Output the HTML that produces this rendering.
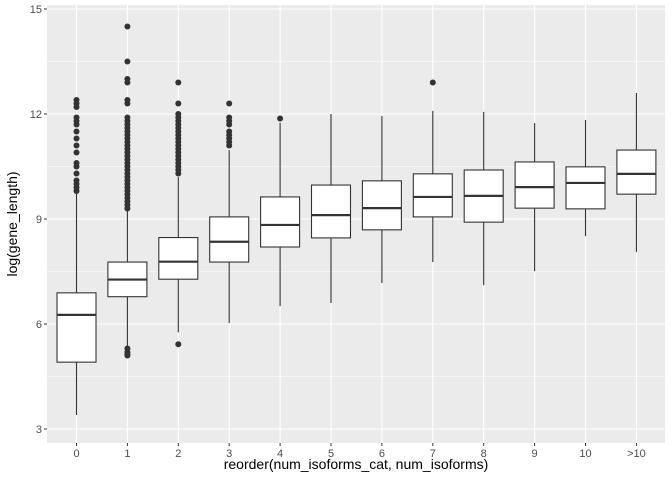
<!DOCTYPE html>
<html><head><meta charset="utf-8"><style>
body{margin:0;background:#fff;}
svg text{font-family:"Liberation Sans",sans-serif;}
</style></head><body>
<svg id="chart" width="672" height="480" xmlns="http://www.w3.org/2000/svg"></svg>
<script>
const categories=["0","1","2","3","4","5","6","7","8","9","10",">10"];
const q1=[4.91,6.78,7.28,7.77,8.2,8.46,8.69,9.06,8.91,9.31,9.29,9.71];
const med=[6.26,7.27,7.78,8.35,8.83,9.11,9.31,9.63,9.66,9.91,10.03,10.29];
const q3=[6.89,7.77,8.47,9.06,9.63,9.97,10.09,10.29,10.4,10.63,10.49,10.97];
const whiskLow=[3.4,5.35,5.76,6.03,6.51,6.6,7.17,7.77,7.11,7.51,8.51,8.06];
const whiskHigh=[9.74,9.26,10.2,10.97,11.75,12.0,11.94,12.09,12.06,11.74,11.83,12.6];
const outliers=[
 [9.8,9.9,10.0,10.1,10.3,10.5,10.6,10.9,11.1,11.3,11.5,11.7,11.8,11.9,12.2,12.3,12.4],
 [5.1,5.15,5.2,5.3,9.3,9.4,9.5,9.6,9.7,9.8,9.9,10.0,10.1,10.2,10.3,10.4,10.5,10.6,10.7,10.8,10.9,11.0,11.1,11.2,11.3,11.4,11.5,11.6,11.7,11.8,11.9,12.3,12.4,12.9,13.0,13.5,14.5],
 [5.42,10.3,10.4,10.5,10.6,10.7,10.8,10.9,11.0,11.1,11.2,11.3,11.4,11.5,11.6,11.7,11.8,11.9,12.0,12.3,12.9],
 [11.1,11.2,11.3,11.4,11.5,11.7,11.8,11.9,12.3],
 [11.87],[],[],[12.9],[],[],[],[]
];
const yTicks=[3,6,9,12,15];
const NS="http://www.w3.org/2000/svg";
const svg=document.getElementById('chart');
const L=47,R=665,T=5,B=443;
const y=v=>429-(v-3)*35;
const x=i=>76.5+50.9*i;
function mk(t,a,p){const e=document.createElementNS(NS,t);for(const k in a)e.setAttribute(k,a[k]);(p||svg).appendChild(e);return e;}
const panel=mk('rect',{x:L,y:T,width:R-L,height:B-T,fill:'#ebebeb'});


for(let v=4.5;v<15;v+=3){const g=mk('line',{x1:L,x2:R,y1:y(v),y2:y(v),stroke:'#fff','stroke-width':0.5});

}
yTicks.forEach(v=>{const g=mk('line',{x1:L,x2:R,y1:y(v),y2:y(v),stroke:'#fff','stroke-width':1.1});


mk('line',{x1:L-3,x2:L,y1:y(v),y2:y(v),stroke:'#333'});
const t=mk('text',{x:L-5,y:y(v)+4,'text-anchor':'end','font-size':11,fill:'#4d4d4d'});t.textContent=v;

});
categories.forEach((c,i)=>{const cx=x(i);
const g=mk('line',{x1:cx,x2:cx,y1:T,y2:B,stroke:'#fff','stroke-width':1.1});


mk('line',{x1:cx,x2:cx,y1:B,y2:B+3,stroke:'#333'});
const t=mk('text',{x:cx,y:B+14,'text-anchor':'middle','font-size':11,fill:'#4d4d4d'});t.textContent=c;

});
categories.forEach((c,i)=>{const cx=x(i),hw=19.5;
const grp=mk('g',{});


mk('line',{x1:cx,x2:cx,y1:y(whiskLow[i]),y2:y(q1[i]),stroke:'#333','stroke-width':1.1},grp);
mk('line',{x1:cx,x2:cx,y1:y(whiskHigh[i]),y2:y(q3[i]),stroke:'#333','stroke-width':1.1},grp);
mk('rect',{x:cx-hw,y:y(q3[i]),width:2*hw,height:y(q1[i])-y(q3[i]),fill:'#fff',stroke:'#333','stroke-width':1.1},grp);
mk('line',{x1:cx-hw,x2:cx+hw,y1:y(med[i]),y2:y(med[i]),stroke:'#333','stroke-width':2.2},grp);
outliers[i].forEach(v=>{const p=mk('circle',{cx:cx,cy:y(v),r:3,fill:'#333'},grp);

});});
const xt=mk('text',{x:(L+R)/2,y:469,'text-anchor':'middle','font-size':14,fill:'#000'});xt.textContent='reorder(num_isoforms_cat, num_isoforms)';


const yt=mk('text',{x:0,y:0,'text-anchor':'middle','font-size':14,fill:'#000',transform:'translate(17,'+((T+B)/2)+') rotate(-90)'});yt.textContent='log(gene_length)';


</script>
</body></html>
